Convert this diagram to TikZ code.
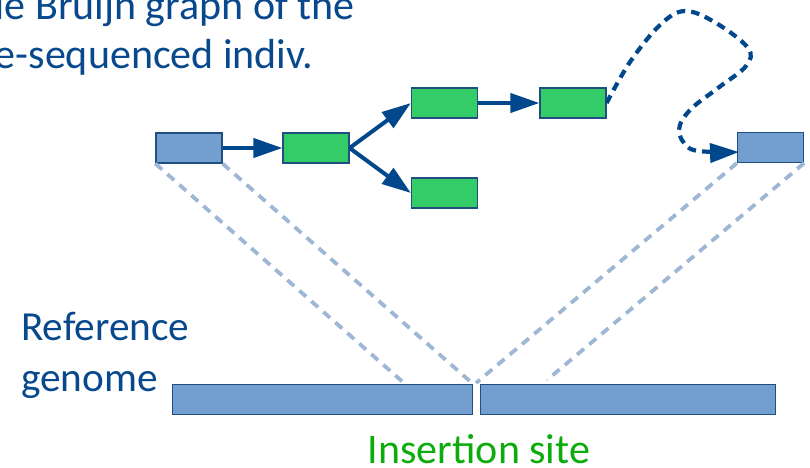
\documentclass[tikz,border=0pt]{standalone}
\usepackage{fontspec}
\setmainfont{Carlito}
\usetikzlibrary{arrows.meta}

\definecolor{seqblue}{RGB}{114,159,207}
\definecolor{seqgreen}{RGB}{51,204,102}
\definecolor{edgeblue}{RGB}{31,78,130}
\definecolor{arrowblue}{RGB}{0,71,139}
\definecolor{maplight}{RGB}{157,183,213}
\definecolor{textblue}{RGB}{8,72,140}
\definecolor{sitegreen}{RGB}{12,172,12}

\tikzset{
  kmer/.style={draw=edgeblue, line width=1.2pt, minimum width=66pt, minimum height=30pt, inner sep=0pt},
  anchorkmer/.style={kmer, fill=seqblue},
  graphkmer/.style={kmer, fill=seqgreen},
  refbar/.style={draw=edgeblue, line width=1pt, fill=seqblue, inner sep=0pt, minimum height=30pt},
  graphedge/.style={draw=arrowblue, line width=4pt, -{Triangle[length=29pt,width=19pt]}},
  pathedge/.style={graphedge, line width=4.2pt, dash pattern=on 8.5pt off 6pt},
  mapline/.style={draw=maplight, line width=3.8pt, dash pattern=on 9pt off 7pt},
  label/.style={font=\fontsize{42}{50}\selectfont, inner sep=0pt},
  sidelabel/.style={font=\fontsize{41.3}{50}\selectfont, inner sep=0pt},
}

\begin{document}
\begin{tikzpicture}[x=1pt, y=-1pt]
  \useasboundingbox (0,0) rectangle (810,467);
  \clip (0,0) rectangle (810,467);

  % caption of the graph (runs past the left edge)
  \node[label, text=textblue, anchor=base east] (cap1) at (355,19) {de Bruijn graph of the};
  \node[label, text=textblue, anchor=base east] (cap2) at (313,68) {re-sequenced indiv.};

  % de Bruijn graph nodes
  \node[anchorkmer] (lb) at (189,148) {};
  \node[graphkmer]  (g1) at (316,148) {};
  \node[graphkmer]  (g2) at (444.5,103) {};
  \node[graphkmer]  (g3) at (444.5,193) {};
  \node[graphkmer]  (g4) at (573,103) {};
  \node[anchorkmer] (rb) at (770.5,147.5) {};

  % reference genome, split at the insertion site
  \node[refbar, minimum width=300pt] (refL) at (322,399) {};
  \node[refbar, minimum width=295pt] (refR) at (627.5,399) {};

  \node[sidelabel, text=textblue, anchor=base west] (ref1) at (21,340) {Reference};
  \node[sidelabel, text=textblue, anchor=base west] (ref2) at (21,391) {genome};
  \node[label, text=sitegreen, anchor=base] (site) at (479,463) {Insertion site};

  % where the anchor k-mers map on the reference
  \coordinate (mLL) at (404,383);
  \coordinate (mLR) at (472,383);
  \coordinate (mRL) at (476,383);
  \coordinate (mRR) at (547,380);
  \draw[mapline] (lb.south west) -- (mLL);
  \draw[mapline] (lb.south east) -- (mLR);
  \draw[mapline] (rb.south west) -- (mRL);
  \draw[mapline] (rb.south east) -- (mRR);

  % graph edges
  \draw[graphedge] (lb.east) -- (g1.west);
  \draw[graphedge] (g1.east) -- (g2.west);
  \draw[graphedge] (g1.east) -- (g3.west);
  \draw[graphedge] (g2.east) -- (g4.west);

  % unresolved path towards the right anchor
  \coordinate (pend) at (739,152);
  \draw[pathedge] plot[smooth, tension=0.6] coordinates {
    (g4.east) (630,62) (660,25) (685,11) (716,23) (748,48) (746,66)
    (718,88) (690,110) (679,130) (689,148) (712,152) (pend)};
\end{tikzpicture}
\end{document}
